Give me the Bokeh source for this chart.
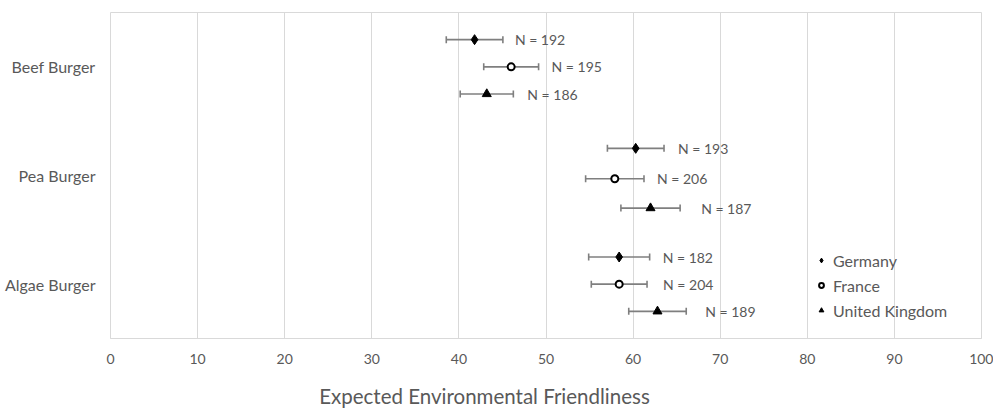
from bokeh.plotting import figure
from bokeh.models import (ColumnDataSource, Range1d, FixedTicker, Whisker, Legend, LegendItem)
from bokeh.core.properties import value
from bokeh.embed import file_html
from bokeh.resources import INLINE

categories = ["Beef Burger", "Pea Burger", "Algae Burger"]
countries = ["Germany", "France", "United Kingdom"]

germany_mean = [41.8, 60.3, 58.4]
germany_err = [3.25, 3.25, 3.5]
germany_n = [192, 193, 182]

france_mean = [46.0, 57.9, 58.4]
france_err = [3.15, 3.35, 3.2]
france_n = [195, 206, 204]

uk_mean = [43.2, 62.0, 62.8]
uk_err = [3.05, 3.4, 3.3]
uk_n = [186, 187, 189]

x_ticks = [0, 10, 20, 30, 40, 50, 60, 70, 80, 90, 100]
x_title = "Expected Environmental Friendliness"

# vertical placement (category centres, top to bottom) and series offsets
cat_y = [2.5, 1.5, 0.5]
germany_off = [0.25, 0.25, 0.25]
france_off = [0.0, -0.03, 0.0]
uk_off = [-0.25, -0.30, -0.25]
label_gap = {"Germany": [12, 14, 13], "France": [13, 13, 16], "United Kingdom": [14, 21, 19]}

FONT = "Lato"
GREY_TXT = "#595959"
GRID = "#d9d9d9"

p = figure(width=993, height=410, output_backend="svg", toolbar_location=None,
           x_range=Range1d(0, 100), y_range=Range1d(0, 3),
           min_border_left=110, min_border_right=12, min_border_top=12, min_border_bottom=72)
p.outline_line_color = GRID
p.outline_line_width = 1
p.background_fill_color = "white"
p.border_fill_color = "white"

p.xaxis.ticker = FixedTicker(ticks=x_ticks)
p.xaxis.axis_line_color = GRID
p.xaxis.major_tick_line_color = None
p.xaxis.minor_tick_line_color = None
p.xaxis.major_label_text_font = FONT
p.xaxis.major_label_text_font_size = "14px"
p.xaxis.major_label_text_color = GREY_TXT
p.xaxis.major_label_standoff = 9
# trailing em spaces shift the centred title left, as in the original
p.xaxis.axis_label = x_title + "\u2003" * 8
p.xaxis.axis_label_text_font = FONT
p.xaxis.axis_label_text_font_style = "normal"
p.xaxis.axis_label_text_font_size = "20.5px"
p.xaxis.axis_label_text_color = GREY_TXT
p.xaxis.axis_label_standoff = 17

p.yaxis.ticker = FixedTicker(ticks=cat_y)
p.yaxis.major_label_overrides = {c: lab for c, lab in zip(cat_y, categories)}
p.yaxis.axis_line_color = None
p.yaxis.major_tick_line_color = None
p.yaxis.minor_tick_line_color = None
p.yaxis.major_label_text_font = FONT
p.yaxis.major_label_text_font_size = "16px"
p.yaxis.major_label_text_color = GREY_TXT
p.yaxis.major_label_standoff = 9

p.xgrid.grid_line_color = GRID
p.xgrid.grid_line_width = 1
p.ygrid.grid_line_color = None

series = [
    ("Germany", germany_mean, germany_err, germany_n, germany_off, "diamond", 10, "black"),
    ("France", france_mean, france_err, france_n, france_off, "circle", 7, None),
    ("United Kingdom", uk_mean, uk_err, uk_n, uk_off, "triangle", 9, "black"),
]

items = []
for name, mean, err, n, off, marker, size, fill in series:
    ys = [c + o for c, o in zip(cat_y, off)]
    src = ColumnDataSource(dict(
        x=mean, y=ys,
        lo=[m - e for m, e in zip(mean, err)],
        hi=[m + e for m, e in zip(mean, err)],
        lab=[f"N = {v}" for v in n],
        gap=label_gap[name],
    ))
    w = Whisker(source=src, base="y", lower="lo", upper="hi", dimension="width",
                line_color="#7f7f7f", line_width=1.6)
    w.upper_head.size = 7
    w.lower_head.size = 7
    w.upper_head.line_color = "#7f7f7f"
    w.lower_head.line_color = "#7f7f7f"
    w.upper_head.line_width = 1.6
    w.lower_head.line_width = 1.6
    p.add_layout(w)
    r = p.scatter("x", "y", source=src, marker=marker, size=size,
                  fill_color=fill if fill else "white", line_color="black",
                  line_width=2 if fill is None else 1)
    p.text("hi", "y", text="lab", source=src, x_offset="gap",
           text_font=value(FONT), text_font_size="14px", text_color=GREY_TXT,
           text_baseline="middle", text_align="left")
    items.append(LegendItem(label=name, renderers=[r]))

legend = Legend(items=items, location=(705, 18), border_line_color=None,
                background_fill_alpha=0, padding=0, spacing=5,
                label_height=20, glyph_height=20, glyph_width=12,
                label_standoff=6, label_text_font=FONT, label_text_font_size="16px",
                label_text_color=GREY_TXT, margin=0)
p.add_layout(legend)

open("out.html", "w").write(file_html(p, INLINE))
